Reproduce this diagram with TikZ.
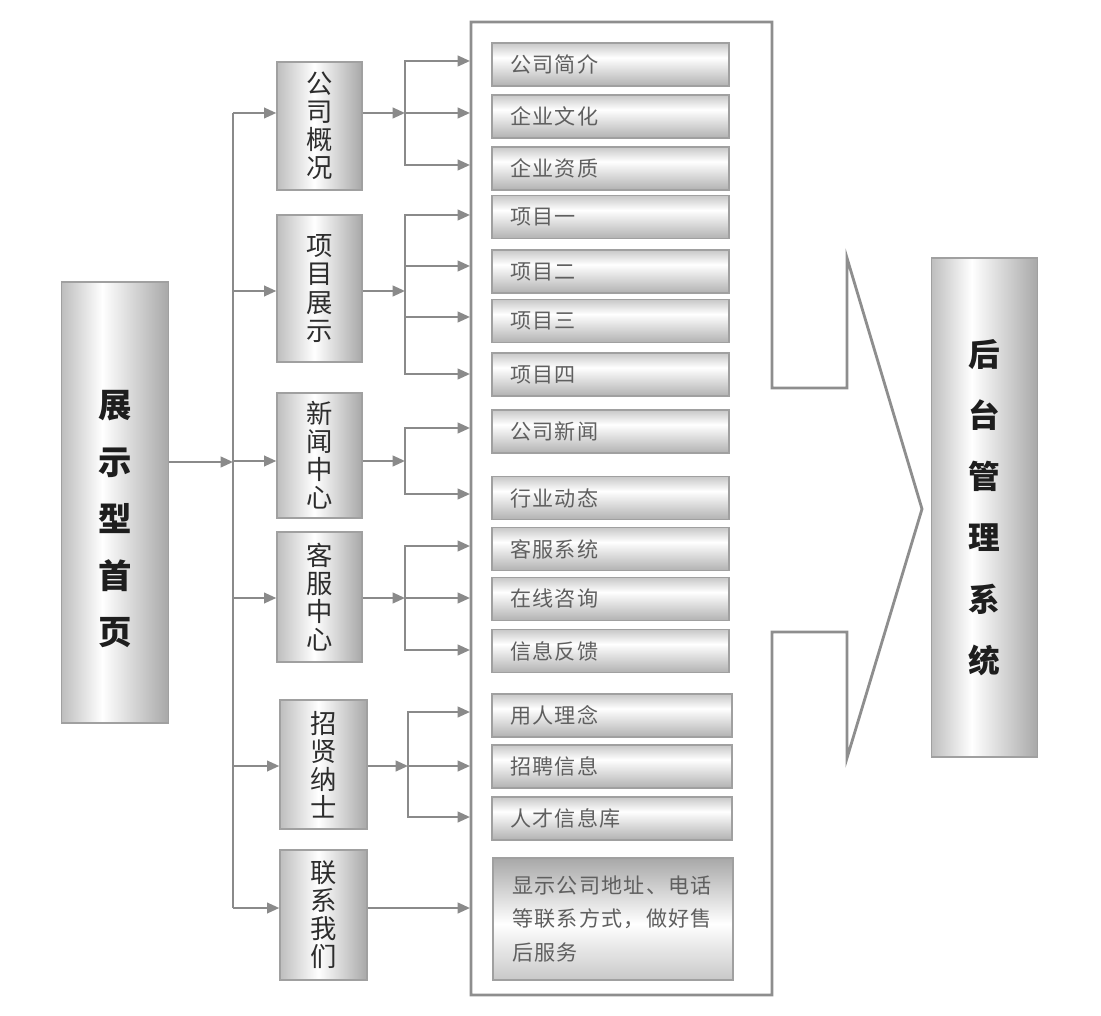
\documentclass[tikz,border=0pt]{standalone}
\usepackage{fontspec}
\newfontfamily\cjk{Noto Sans CJK SC}
\newfontfamily\cjkspaced{Noto Sans CJK SC}[LetterSpace=6]
\usetikzlibrary{arrows.meta,positioning,calc}

\definecolor{linegray}{RGB}{138,138,138}
\definecolor{framegray}{RGB}{142,142,142}
\definecolor{boxedge}{RGB}{160,160,160}
\definecolor{shadeL}{RGB}{190,190,190}
\definecolor{shadeR}{RGB}{168,168,168}
\definecolor{leafT}{RGB}{200,200,200}
\definecolor{leafB}{RGB}{178,178,178}
\definecolor{txtdark}{RGB}{45,45,45}
\definecolor{txtsoft}{RGB}{95,95,95}
\definecolor{txtbold}{RGB}{30,30,30}

\pgfdeclarehorizontalshading{cylshade}{100bp}{color(0bp)=(shadeL); color(25bp)=(shadeL); color(44bp)=(white); color(75bp)=(shadeR); color(100bp)=(shadeR)}
\pgfdeclarehorizontalshading{secshade}{100bp}{color(0bp)=(shadeL); color(25bp)=(shadeL); color(47bp)=(white); color(75bp)=(shadeR); color(100bp)=(shadeR)}
\pgfdeclareverticalshading{leafshade}{100bp}{color(0bp)=(leafB); color(25bp)=(leafB); color(58bp)=(white); color(75bp)=(leafT); color(100bp)=(leafT)}
\pgfdeclareverticalshading{contactshade}{100bp}{color(0bp)=(leafT); color(25bp)=(leafT); color(48bp)=(white); color(75bp)=(shadeR); color(100bp)=(shadeR)}

\begin{document}
\begin{tikzpicture}[
    x=0.02cm, y=-0.02cm,
    font=\cjk,
    conn/.style={draw=linegray, line width=1.3pt},
    arrow/.style={conn, -{Triangle[length=7pt, width=6pt]}},
    frame/.style={draw=framegray, line width=1.6pt, line join=miter},
    pagebox/.style={rectangle, draw=boxedge, line width=0.8pt, shading=cylshade, minimum width=2.13cm},
    bigtext/.style={text=txtbold, align=center, inner sep=0pt},
    secbox/.style={rectangle, draw=boxedge, line width=0.8pt, shading=secshade, minimum width=1.7cm, text=txtdark, font=\cjk\fontsize{15}{16}\selectfont, align=center, inner sep=0pt},
    leafbox/.style={rectangle, draw=boxedge, line width=0.8pt, shading=leafshade, minimum width=4.74cm, minimum height=0.86cm, inner xsep=0.36cm, text width=4.02cm, align=left, text=txtsoft, font=\cjkspaced\fontsize{12}{19.3}\selectfont}
]

    % Fondo
    \fill[white] (0,0) rectangle (1101,1016);
    \useasboundingbox (0,0) rectangle (1101,1016);

    % Cornice con freccia
    \draw[frame] (471,22) -- (772,22) -- (772,388) -- (847,388) -- (847,258) -- (922,509) -- (847,758) -- (847,632) -- (772,632) -- (772,995) -- (471,995) -- cycle;

    % Nodi
    \node[pagebox, minimum height=8.82cm] (home) at (115,502.5) {};
    \node[bigtext, font=\cjk\bfseries\fontsize{19}{32.3}\selectfont] (homelabel) at (115,519.5) {展\\示\\型\\首\\页};
    \node[pagebox, minimum height=9.98cm, text=txtbold, align=center, font=\cjk\bfseries\fontsize{18}{34.8}\selectfont] (admin) at (984.5,507.5) {后\\台\\管\\理\\系\\统};

    \node[secbox, minimum height=2.56cm] (gsgk) at (319.5,126) {公\\司\\概\\况};
    \node[secbox, minimum height=2.94cm] (xmzs) at (319.5,288.5) {项\\目\\展\\示};
    \node[secbox, minimum height=2.5cm] (xwzx) at (319.5,455.5) {新\\闻\\中\\心};
    \node[secbox, minimum height=2.6cm] (kfzx) at (319.5,597) {客\\服\\中\\心};
    \node[secbox, minimum width=1.74cm, minimum height=2.58cm] (zxns) at (323.5,764.5) {招\\贤\\纳\\士};
    \node[secbox, minimum width=1.74cm, minimum height=2.6cm] (lxwm) at (323.5,915) {联\\系\\我\\们};

    \foreach \n/\y/\t in {gsjj/64.5/公司简介, qywh/116.5/企业文化, qyzz/168.5/企业资质,
        xm1/217/项目一, xm2/271.5/项目二, xm3/321/项目三, xm4/374.5/项目四,
        gsxw/431.5/公司新闻, hydt/498/行业动态,
        kfxt/549/客服系统, zxzx/599/在线咨询, xxfk/651/信息反馈}
      \node[leafbox] (\n) at (610.5,\y) {\t};
    \foreach \n/\y/\t in {yrln/715.5/用人理念, zpxx/766.5/招聘信息, rcxxk/818.5/人才信息库}
      \node[leafbox, minimum width=4.8cm, text width=4.08cm] (\n) at (612,\y) {\t};
    \node[leafbox, shading=contactshade, minimum width=4.76cm, text width=4.04cm, minimum height=2.44cm, inner xsep=0.38cm] (lxfs) at (613,919) {显示公司地址、电话\\等联系方式，做好售\\后服务};

    % Collegamenti
    \coordinate (spinetop) at (233,113);
    \coordinate (spinebot) at (233,908);
    \coordinate (spinein) at (233,462);
    \draw[conn] (spinetop) -- (spinebot);
    \draw[arrow] (home.east |- spinein) -- (spinein);
    \foreach \n/\y in {gsgk/113, xmzs/291, xwzx/461, kfzx/598, zxns/766, lxwm/908}
      \draw[arrow] (spinetop |- 0,\y) -- (\n.west |- 0,\y);

    \foreach \n/\fx/\ya/\ys in {gsgk/405/113/{61,113,165}, xmzs/405/291/{215,266,317,374},
        xwzx/405/461/{428,494}, kfzx/405/598/{546,598,650}, zxns/408/766/{712,766,817}} {
      \draw[arrow] (\n.east |- 0,\ya) -- (\fx,\ya);
      \foreach \y in \ys
        \draw[arrow] (\fx,\ya) |- (470,\y);
    }
    \draw[arrow] (lxwm.east |- 0,908) -- (470,908);

\end{tikzpicture}
\end{document}
